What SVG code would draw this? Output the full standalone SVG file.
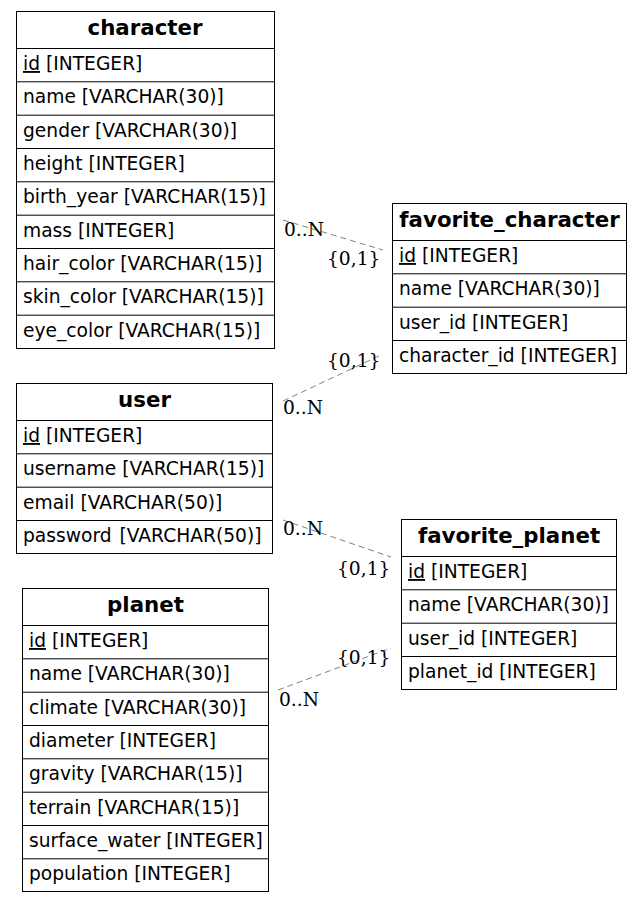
<svg xmlns="http://www.w3.org/2000/svg" width="643" height="903" viewBox="0 0 643 903">
<style>
.box{fill:#fff;stroke:#000;stroke-width:1}
.sep{stroke:#000;stroke-width:1}
.hdr{font-family:"DejaVu Sans",sans-serif;font-weight:bold;font-size:21.33px;text-anchor:middle;fill:#000}
.fld{font-family:"DejaVu Sans",sans-serif;font-size:18.67px;fill:#000}
.pk{text-decoration:underline}
.edge{fill:none;stroke:#808080;stroke-width:1;stroke-dasharray:6,4}
.lbl{font-family:"DejaVu Serif","Liberation Serif",serif;font-size:18.67px;fill:#000}
</style>
<rect width="643" height="903" fill="#fff"/>
<g id="connectors">
<line class="edge" x1="283" y1="220" x2="383" y2="250"/>
<line class="edge" x1="283" y1="401" x2="381" y2="355"/>
<line class="edge" x1="283" y1="520" x2="391" y2="557"/>
<line class="edge" x1="278" y1="690" x2="391" y2="648"/>
<text class="lbl" x="284" y="236">0..N</text>
<text class="lbl" x="327" y="265">{0,1}</text>
<text class="lbl" x="327" y="367">{0,1}</text>
<text class="lbl" x="283" y="414">0..N</text>
<text class="lbl" x="283" y="535">0..N</text>
<text class="lbl" x="337" y="575">{0,1}</text>
<text class="lbl" x="337" y="664">{0,1}</text>
<text class="lbl" x="279" y="706">0..N</text>
</g>
<g id="character">
<rect class="box" x="16.5" y="11.5" width="258" height="337"/>
<line class="sep" x1="16" y1="48.5" x2="275" y2="48.5"/>
<line class="sep" x1="16" y1="81.8" x2="275" y2="81.8"/>
<line class="sep" x1="16" y1="115.2" x2="275" y2="115.2"/>
<line class="sep" x1="16" y1="148.5" x2="275" y2="148.5"/>
<line class="sep" x1="16" y1="181.8" x2="275" y2="181.8"/>
<line class="sep" x1="16" y1="215.2" x2="275" y2="215.2"/>
<line class="sep" x1="16" y1="248.5" x2="275" y2="248.5"/>
<line class="sep" x1="16" y1="281.8" x2="275" y2="281.8"/>
<line class="sep" x1="16" y1="315.2" x2="275" y2="315.2"/>
<text class="hdr" x="145" y="34.5">character</text>
<text class="fld" x="23" y="70"><tspan class="pk">id</tspan> [INTEGER]</text>
<text class="fld" x="23" y="103.3">name [VARCHAR(30)]</text>
<text class="fld" x="23" y="136.7">gender [VARCHAR(30)]</text>
<text class="fld" x="23" y="170">height [INTEGER]</text>
<text class="fld" x="23" y="203.3">birth_year [VARCHAR(15)]</text>
<text class="fld" x="23" y="236.7">mass [INTEGER]</text>
<text class="fld" x="23" y="270">hair_color [VARCHAR(15)]</text>
<text class="fld" x="23" y="303.3">skin_color [VARCHAR(15)]</text>
<text class="fld" x="23" y="336.7">eye_color [VARCHAR(15)]</text>
</g>
<g id="favorite_character">
<rect class="box" x="392.5" y="203.5" width="234" height="170"/>
<line class="sep" x1="392" y1="240.5" x2="627" y2="240.5"/>
<line class="sep" x1="392" y1="273.8" x2="627" y2="273.8"/>
<line class="sep" x1="392" y1="307.2" x2="627" y2="307.2"/>
<line class="sep" x1="392" y1="340.5" x2="627" y2="340.5"/>
<text class="hdr" x="509.5" y="226.5">favorite_character</text>
<text class="fld" x="399" y="262"><tspan class="pk">id</tspan> [INTEGER]</text>
<text class="fld" x="399" y="295.3">name [VARCHAR(30)]</text>
<text class="fld" x="399" y="328.7">user_id [INTEGER]</text>
<text class="fld" x="399" y="362">character_id [INTEGER]</text>
</g>
<g id="user">
<rect class="box" x="16.5" y="383.5" width="256" height="170"/>
<line class="sep" x1="16" y1="420.5" x2="273" y2="420.5"/>
<line class="sep" x1="16" y1="453.8" x2="273" y2="453.8"/>
<line class="sep" x1="16" y1="487.2" x2="273" y2="487.2"/>
<line class="sep" x1="16" y1="520.5" x2="273" y2="520.5"/>
<text class="hdr" x="144.5" y="406.5">user</text>
<text class="fld" x="23" y="442"><tspan class="pk">id</tspan> [INTEGER]</text>
<text class="fld" x="23" y="475.3">username [VARCHAR(15)]</text>
<text class="fld" x="23" y="508.7">email [VARCHAR(50)]</text>
<text class="fld" x="23" y="542">password <tspan dx="2">[VARCHAR(50)]</tspan></text>
</g>
<g id="favorite_planet">
<rect class="box" x="401.5" y="519.5" width="215" height="170"/>
<line class="sep" x1="401" y1="556.5" x2="617" y2="556.5"/>
<line class="sep" x1="401" y1="589.8" x2="617" y2="589.8"/>
<line class="sep" x1="401" y1="623.2" x2="617" y2="623.2"/>
<line class="sep" x1="401" y1="656.5" x2="617" y2="656.5"/>
<text class="hdr" x="509" y="542.5">favorite_planet</text>
<text class="fld" x="408" y="578"><tspan class="pk">id</tspan> [INTEGER]</text>
<text class="fld" x="408" y="611.3">name [VARCHAR(30)]</text>
<text class="fld" x="408" y="644.7">user_id [INTEGER]</text>
<text class="fld" x="408" y="678">planet_id [INTEGER]</text>
</g>
<g id="planet">
<rect class="box" x="22.5" y="588.5" width="246" height="303"/>
<line class="sep" x1="22" y1="625.5" x2="269" y2="625.5"/>
<line class="sep" x1="22" y1="658.8" x2="269" y2="658.8"/>
<line class="sep" x1="22" y1="692.2" x2="269" y2="692.2"/>
<line class="sep" x1="22" y1="725.5" x2="269" y2="725.5"/>
<line class="sep" x1="22" y1="758.8" x2="269" y2="758.8"/>
<line class="sep" x1="22" y1="792.2" x2="269" y2="792.2"/>
<line class="sep" x1="22" y1="825.5" x2="269" y2="825.5"/>
<line class="sep" x1="22" y1="858.8" x2="269" y2="858.8"/>
<text class="hdr" x="145.5" y="611.5">planet</text>
<text class="fld" x="29" y="647"><tspan class="pk">id</tspan> [INTEGER]</text>
<text class="fld" x="29" y="680.3">name [VARCHAR(30)]</text>
<text class="fld" x="29" y="713.7">climate [VARCHAR(30)]</text>
<text class="fld" x="29" y="747">diameter [INTEGER]</text>
<text class="fld" x="29" y="780.3">gravity [VARCHAR(15)]</text>
<text class="fld" x="29" y="813.7">terrain [VARCHAR(15)]</text>
<text class="fld" x="29" y="847">surface_water [INTEGER]</text>
<text class="fld" x="29" y="880.3">population [INTEGER]</text>
</g>
</svg>
